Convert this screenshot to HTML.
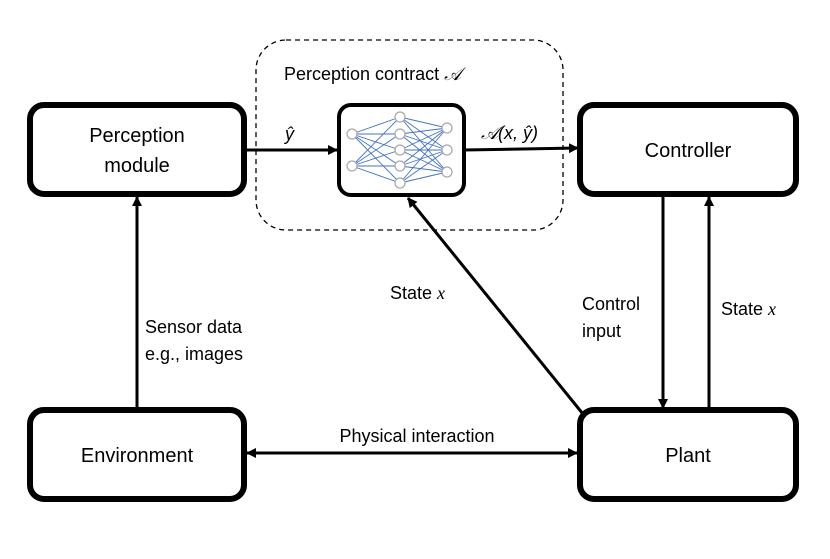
<!DOCTYPE html>
<html><head><style>
body{margin:0;background:#fff}
svg text{font-family:"Liberation Sans",sans-serif;fill:#000}
</style></head><body>
<svg width="830" height="554" viewBox="0 0 830 554" xmlns="http://www.w3.org/2000/svg">
<defs>
<marker id="a" markerWidth="10" markerHeight="10" refX="9" refY="5" orient="auto-start-reverse" markerUnits="userSpaceOnUse">
<path d="M0,0 L10,5 L0,10 z" fill="#000"/></marker>
</defs>
<rect x="256" y="40" width="307" height="190" rx="30" fill="none" stroke="#000" stroke-width="1.3" stroke-dasharray="5,4"/>
<g fill="none" stroke="#000" stroke-width="6">
<rect x="30" y="105" width="214" height="89" rx="14"/>
<rect x="580" y="105" width="216" height="89" rx="14"/>
<rect x="30" y="410" width="214" height="89" rx="14"/>
<rect x="580" y="410" width="216" height="89" rx="14"/>
</g>
<rect x="339" y="105" width="125" height="90" rx="12" fill="none" stroke="#000" stroke-width="4"/>
<g stroke="#4472c4" stroke-width="0.9">
<path d="M352 134L400 117M352 134L400 134M352 134L400 150M352 134L400 166M352 134L400 183M352 166L400 117M352 166L400 134M352 166L400 150M352 166L400 166M352 166L400 183"/>
<path d="M400 117L447 128M400 117L447 150M400 117L447 172M400 134L447 128M400 134L447 150M400 134L447 172M400 150L447 128M400 150L447 150M400 150L447 172M400 166L447 128M400 166L447 150M400 166L447 172M400 183L447 128M400 183L447 150M400 183L447 172"/>
</g>
<g fill="#fff" stroke="#aaa" stroke-width="1.3">
<circle cx="352" cy="134" r="5"/><circle cx="352" cy="166" r="5"/>
<circle cx="400" cy="117" r="5"/><circle cx="400" cy="134" r="5"/><circle cx="400" cy="150" r="5"/><circle cx="400" cy="166" r="5"/><circle cx="400" cy="183" r="5"/>
<circle cx="447" cy="128" r="5"/><circle cx="447" cy="150" r="5"/><circle cx="447" cy="172" r="5"/>
</g>
<g stroke="#000" stroke-width="3" fill="none">
<line x1="244" y1="150" x2="337" y2="150" marker-end="url(#a)"/>
<line x1="464" y1="150" x2="578" y2="148" marker-end="url(#a)"/>
<line x1="137" y1="408" x2="137" y2="197" marker-end="url(#a)"/>
<line x1="663" y1="196" x2="663" y2="408" marker-end="url(#a)"/>
<line x1="709" y1="408" x2="709" y2="197" marker-end="url(#a)"/>
<line x1="583" y1="414" x2="408" y2="198" marker-end="url(#a)"/>
<line x1="247" y1="453" x2="577" y2="453" marker-start="url(#a)" marker-end="url(#a)"/>
</g>
<g font-size="20">
<text x="137" y="142" text-anchor="middle">Perception</text>
<text x="137" y="172" text-anchor="middle">module</text>
<text x="688" y="157" text-anchor="middle">Controller</text>
<text x="137" y="462" text-anchor="middle">Environment</text>
<text x="688" y="462" text-anchor="middle">Plant</text>
</g>
<g font-size="18">
<text x="284" y="80">Perception contract <tspan font-family="Liberation Serif" font-style="italic">𝒜</tspan></text>
<text x="285" y="140" font-family="Liberation Serif" font-style="italic">ŷ</text>
<text x="481" y="139" font-family="Liberation Serif" font-style="italic">𝒜(x, ŷ)</text>
<text x="390" y="299">State <tspan font-family="Liberation Serif" font-style="italic">x</tspan></text>
<text x="145" y="333">Sensor data</text>
<text x="145" y="360">e.g., images</text>
<text x="582" y="310">Control</text>
<text x="582" y="337">input</text>
<text x="721" y="315">State <tspan font-family="Liberation Serif" font-style="italic">x</tspan></text>
<text x="417" y="442" text-anchor="middle">Physical interaction</text>
</g>
</svg>
</body></html>
